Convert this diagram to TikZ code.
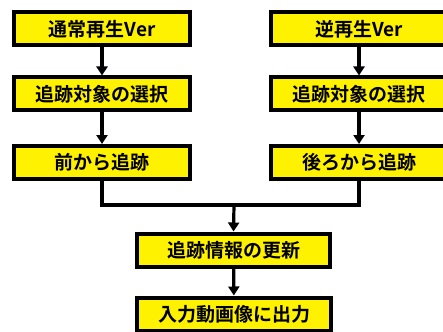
\documentclass[tikz,border=0pt]{standalone}
\usepackage{fontspec}
\newfontfamily\jp{Noto Sans CJK JP Bold}
\usetikzlibrary{arrows.meta}
\begin{document}
\begin{tikzpicture}[x=1pt,y=-1pt,
  box/.style={draw=black,fill=yellow,line width=4pt,minimum width=176pt,minimum height=33pt,inner sep=0pt,font=\jp\fontsize{19}{20}\selectfont},
  conn/.style={line width=3.2pt,draw=black},
  arr/.style={conn,-{Triangle[width=11pt,length=9pt]}}]
\useasboundingbox (0,0) rectangle (443,331);
\node[box] (a1) at (102,29) {通常再生Ver};
\node[box] (a2) at (102,94) {追跡対象の選択};
\node[box] (a3) at (102,162.5) {前から追跡};
\node[box] (b1) at (359,29) {逆再生Ver};
\node[box] (b2) at (359,94) {追跡対象の選択};
\node[box] (b3) at (359,162.5) {後ろから追跡};
\node[box,minimum width=193pt] (c) at (233.5,250) {追跡情報の更新};
\node[box,minimum width=194pt] (d) at (234,314) {入力動画像に出力};
\coordinate (j) at (234,205);
\draw[arr] (a1) -- (a2);
\draw[arr] (a2) -- (a3);
\draw[arr] (b1) -- (b2);
\draw[arr] (b2) -- (b3);
\draw[conn] (a3.south) |- (j) -| (b3.south);
\draw[arr] (j) -- (c.north);
\draw[arr] (c) -- (d);
\end{tikzpicture}
\end{document}
